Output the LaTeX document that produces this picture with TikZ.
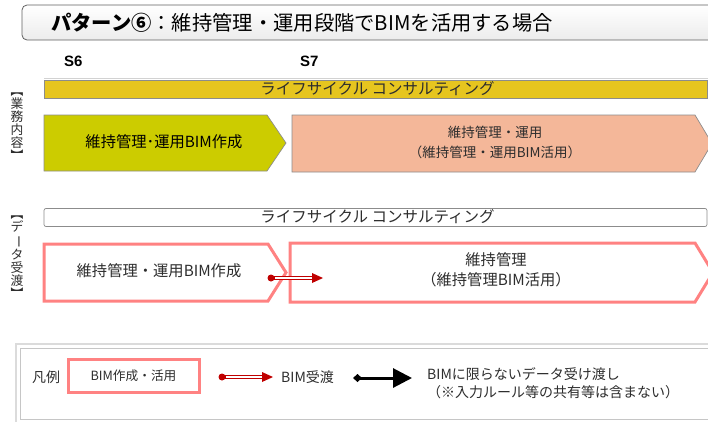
\documentclass[tikz,border=0pt]{standalone}
\usepackage{fontspec}
\setmainfont{Noto Sans CJK JP}
\newfontfamily\arialfont{Liberation Sans}
\usetikzlibrary{arrows.meta,calc}
\definecolor{cYellow}{RGB}{230,197,31}
\definecolor{cOlive}{RGB}{204,204,0}
\definecolor{cSalmon}{RGB}{244,183,153}
\definecolor{cPink}{RGB}{255,130,130}
\definecolor{cDarkRed}{RGB}{192,0,0}
\definecolor{cText}{RGB}{45,45,45}
\definecolor{cBorder}{RGB}{140,140,140}
\tikzset{
  txt/.style={font=\fontsize{13}{19}\selectfont, text=cText, inner sep=0pt, align=center},
  bigtxt/.style={font=\fontsize{15.3}{20}\selectfont, text=cText, inner sep=0pt, align=center},
  legtxt/.style={font=\fontsize{14}{17.5}\selectfont, text=cText, inner sep=0pt},
  bartxt/.style={font=\fontsize{15.5}{17}\selectfont, text=cText, inner sep=0pt},
  bar/.style={draw=cBorder, line width=0.7pt, minimum width=663pt, minimum height=18pt, inner sep=0pt},
  vlab/.style={font=\fontsize{12.8}{13}\selectfont, text=cText, inner sep=0pt, align=center},
  pinkline/.style={draw=cPink, line width=3pt, line join=miter},
  grayline/.style={draw=cBorder, line width=0.7pt},
  bimouter/.style={draw=cDarkRed, line width=3.2pt},
  biminner/.style={draw=white, line width=1.4pt},
  stage/.style={font=\arialfont\bfseries\fontsize{15}{17}\selectfont, inner sep=0pt, anchor=west},
}
\begin{document}
\begin{tikzpicture}[x=1pt,y=-1pt]
\useasboundingbox (0,0) rectangle (708,421);
% title
\draw[rounded corners=5pt, draw=gray!75!black, line width=0.8pt, top color=white, bottom color=gray!15] (22,5) rectangle (716,40);
\node[anchor=west, inner sep=0pt, font=\fontsize{20.3}{22}\selectfont] (title) at (51,22.5) {\textbf{パターン⑥}：維持管理・運用段階でBIMを活用する場合};
% stages
\node[stage] (s6) at (64,61) {S6};
\node[stage] (s7) at (300,61) {S7};
\draw[gray!35, line width=0.8pt] (44,78) -- (708,78);
% vertical labels
\node[vlab] (lab1) at (17,127) {︻\\業\\務\\内\\容\\︼};
\node[vlab] (lab2) at (17,257) {︻\\デ\\\rotatebox[origin=c]{-90}{ー}\\タ\\受\\渡\\︼};
% top bar
\node[bar, fill=cYellow] (bar1) at (375.5,89) {};
\node[bartxt] (bar1t) at (377.5,89) {ライフサイクル コンサルティング};
% business arrows
\draw[grayline, fill=cOlive] (44,115) -- (267,115) -- (286,143) -- (267,171) -- (44,171) -- cycle;
\node[bigtxt, text=black] (g1) at (164,142) {維持管理･運用BIM作成};
\draw[grayline, fill=cSalmon] (292,115) -- (695,115) -- (712,143.5) -- (695,172) -- (292,172) -- cycle;
\node[txt, font=\fontsize{13.5}{19.5}\selectfont] (s1) at (495,142.5) {維持管理・運用\\（維持管理・運用BIM活用）};
% data bar
\node[bar, fill=white, rounded corners=2pt] (bar2) at (375.5,217.5) {};
\node[bartxt] (bar2t) at (377.5,217) {ライフサイクル コンサルティング};
% data arrows
\draw[pinkline, fill=white] (44,244) -- (268,244) -- (286,272.5) -- (268,301) -- (44,301) -- cycle;
\node[bigtxt] (p1) at (159,271) {維持管理・運用BIM作成};
\draw[pinkline, fill=white] (290,243) -- (695,243) -- (713,272.5) -- (695,302) -- (290,302) -- cycle;
\node[bigtxt] (p2) at (496,270) {維持管理\\（維持管理BIM活用）};
% BIM transfer arrow
\coordinate (a1s) at (271,278);
\coordinate (a1e) at (323,278);
\draw[bimouter] (a1s) -- ($(a1e)+(-10,0)$);
\draw[biminner] ($(a1s)+(4,0)$) -- ($(a1e)+(-10,0)$);
\fill[cDarkRed] (a1s) circle (3.5pt);
\fill[cDarkRed] (a1e) -- ($(a1e)+(-11,-5)$) -- ($(a1e)+(-11,5)$) -- cycle;
% legend
\draw[gray!28, line width=2.5pt] (16,344) rectangle (722,423);
\draw[gray!45, line width=0.6pt] (20,348) rectangle (722,419);
\node[legtxt] (lg0) at (46,377) {凡例};
\draw[pinkline] (68,359) rectangle (199,392);
\node[legtxt, font=\fontsize{12.7}{15}\selectfont] (lg1) at (133.5,376) {BIM作成・活用};
\coordinate (a2s) at (222,377);
\coordinate (a2e) at (273,377);
\draw[bimouter] (a2s) -- ($(a2e)+(-10,0)$);
\draw[biminner] ($(a2s)+(4,0)$) -- ($(a2e)+(-10,0)$);
\fill[cDarkRed] (a2s) circle (3.5pt);
\fill[cDarkRed] (a2e) -- ($(a2e)+(-11,-5)$) -- ($(a2e)+(-11,5)$) -- cycle;
\node[legtxt, anchor=west] (lg2) at (281,377) {BIM受渡};
\coordinate (b1) at (353,378);
\coordinate (b2) at (412,378);
\draw[line width=3pt, {Diamond[length=9pt,width=8pt]}-{Triangle[length=19pt,width=19pt]}] (b1) -- (b2);
\node[legtxt, anchor=west, align=left] (lg3) at (427,383) {BIMに限らないデータ受け渡し\\ （※入力ルール等の共有等は含まない）};
\end{tikzpicture}
\end{document}
